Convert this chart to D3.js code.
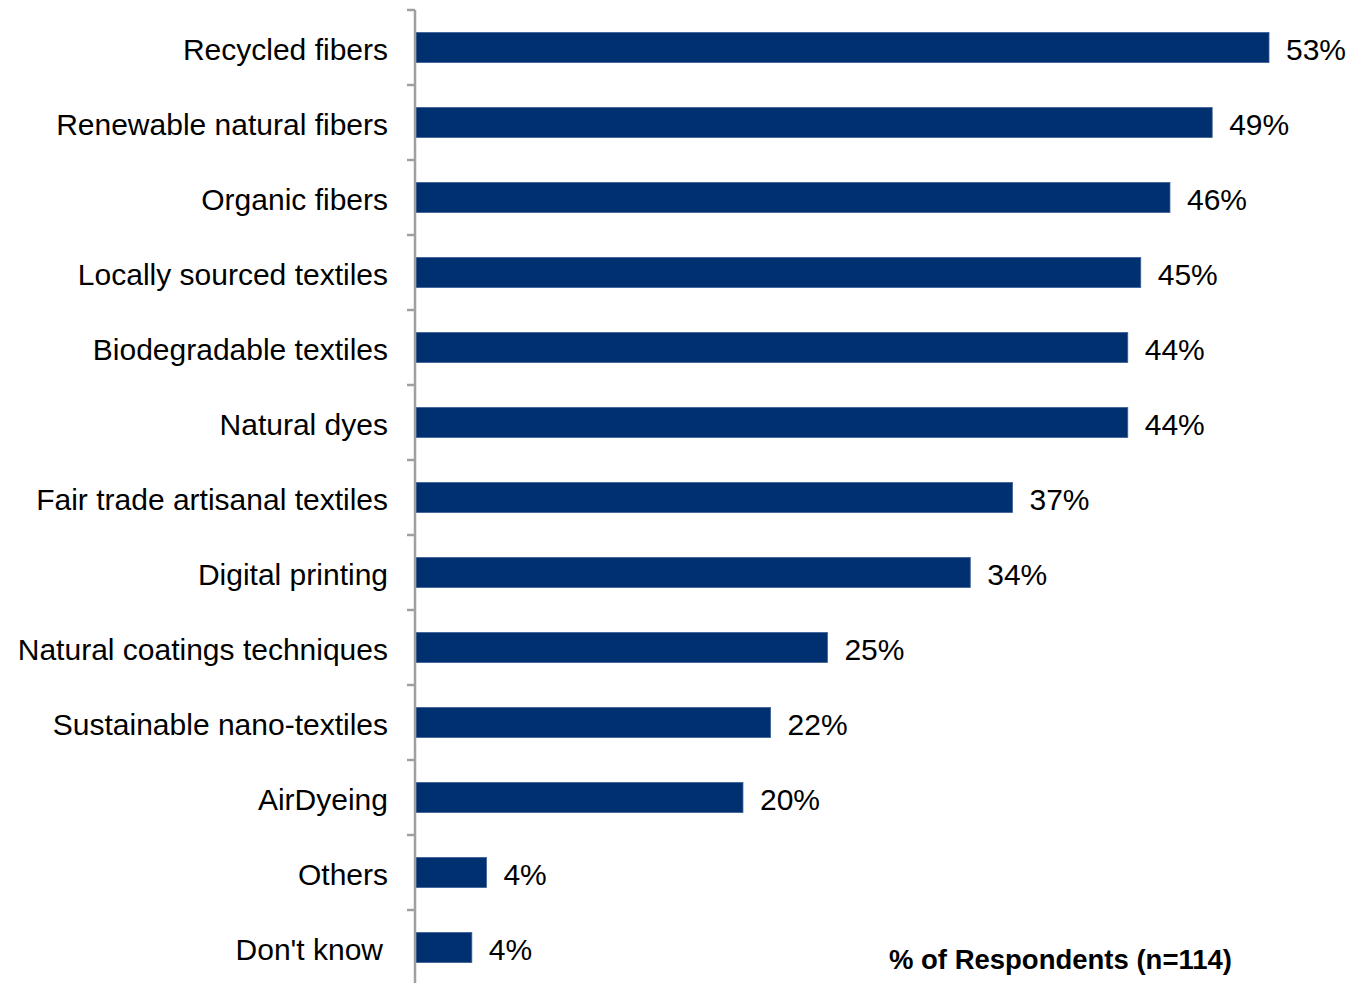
<!DOCTYPE html>
<html>
<head>
<meta charset="utf-8">
<script src="https://cdn.jsdelivr.net/npm/d3@7"></script>
<style>
  html, body { margin: 0; padding: 0; background: #fff; }
  svg { display: block; }
  text { font-family: "Liberation Sans", Arial, sans-serif; fill: #000; }
</style>
</head>
<body>
<svg id="chart" width="1349" height="983"></svg>
<script>
const categories = ["Recycled fibers", "Renewable natural fibers", "Organic fibers", "Locally sourced textiles",
  "Biodegradable textiles", "Natural dyes", "Fair trade artisanal textiles", "Digital printing",
  "Natural coatings techniques", "Sustainable nano-textiles", "AirDyeing", "Others", "Don't know"];
const values = [52.6, 49.1, 46.5, 44.7, 43.9, 43.9, 36.8, 34.2, 25.4, 21.9, 20.2, 4.4, 3.5];
const valueLabels = ["53%", "49%", "46%", "45%", "44%", "44%", "37%", "34%", "25%", "22%", "20%", "4%", "4%"];
const footnote = "% of Respondents (n=114)";

const svg = d3.select("#chart");
const x0 = 415;
const x = d3.scaleLinear().domain([0, 52.6]).range([x0, 1269]);
const y = d3.scaleBand().domain(categories).range([10, 985]).paddingInner(0.6).paddingOuter(0.3);

// bars
svg.append("g").selectAll("rect").data(categories).join("rect")
  .attr("x", x(0) + 1)
  .attr("y", d => y(d))
  .attr("width", (d, i) => x(values[i]) - x(0) - 1)
  .attr("height", y.bandwidth())
  .attr("fill", "#003070")
  .attr("stroke", "#3a5d94")
  .attr("stroke-width", 0.8);

// axis line and ticks
const axisG = svg.append("g");
axisG.append("line").attr("x1", x0).attr("x2", x0).attr("y1", 10).attr("y2", 983)
  .attr("stroke", "#a0a0a0").attr("stroke-width", 2.5);
const step = y.step();
const tickYs = d3.range(categories.length + 1).map(i => 10 + i * step);
axisG.selectAll("line.tick").data(tickYs).join("line").attr("class", "tick")
  .attr("x1", x0 - 8).attr("x2", x0).attr("y1", d => d).attr("y2", d => d)
  .attr("stroke", "#a0a0a0").attr("stroke-width", 2.5);

// category labels
svg.append("g").selectAll("text").data(categories).join("text")
  .attr("x", d => d === "Don't know" ? 383 : 388)
  .attr("y", d => y(d) + y.bandwidth() / 2)
  .attr("dy", "0.42em")
  .attr("text-anchor", "end")
  .attr("font-size", 30)
  .text(d => d);

// value labels
svg.append("g").selectAll("text").data(categories).join("text")
  .attr("x", (d, i) => x(values[i]) + 17)
  .attr("y", d => y(d) + y.bandwidth() / 2)
  .attr("dy", "0.42em")
  .attr("font-size", 30)
  .text((d, i) => valueLabels[i]);

// footnote
svg.append("text")
  .attr("x", 1232).attr("y", 969)
  .attr("text-anchor", "end")
  .attr("font-size", 27.5)
  .attr("font-weight", "bold")
  .text(footnote);
</script>
</body>
</html>
